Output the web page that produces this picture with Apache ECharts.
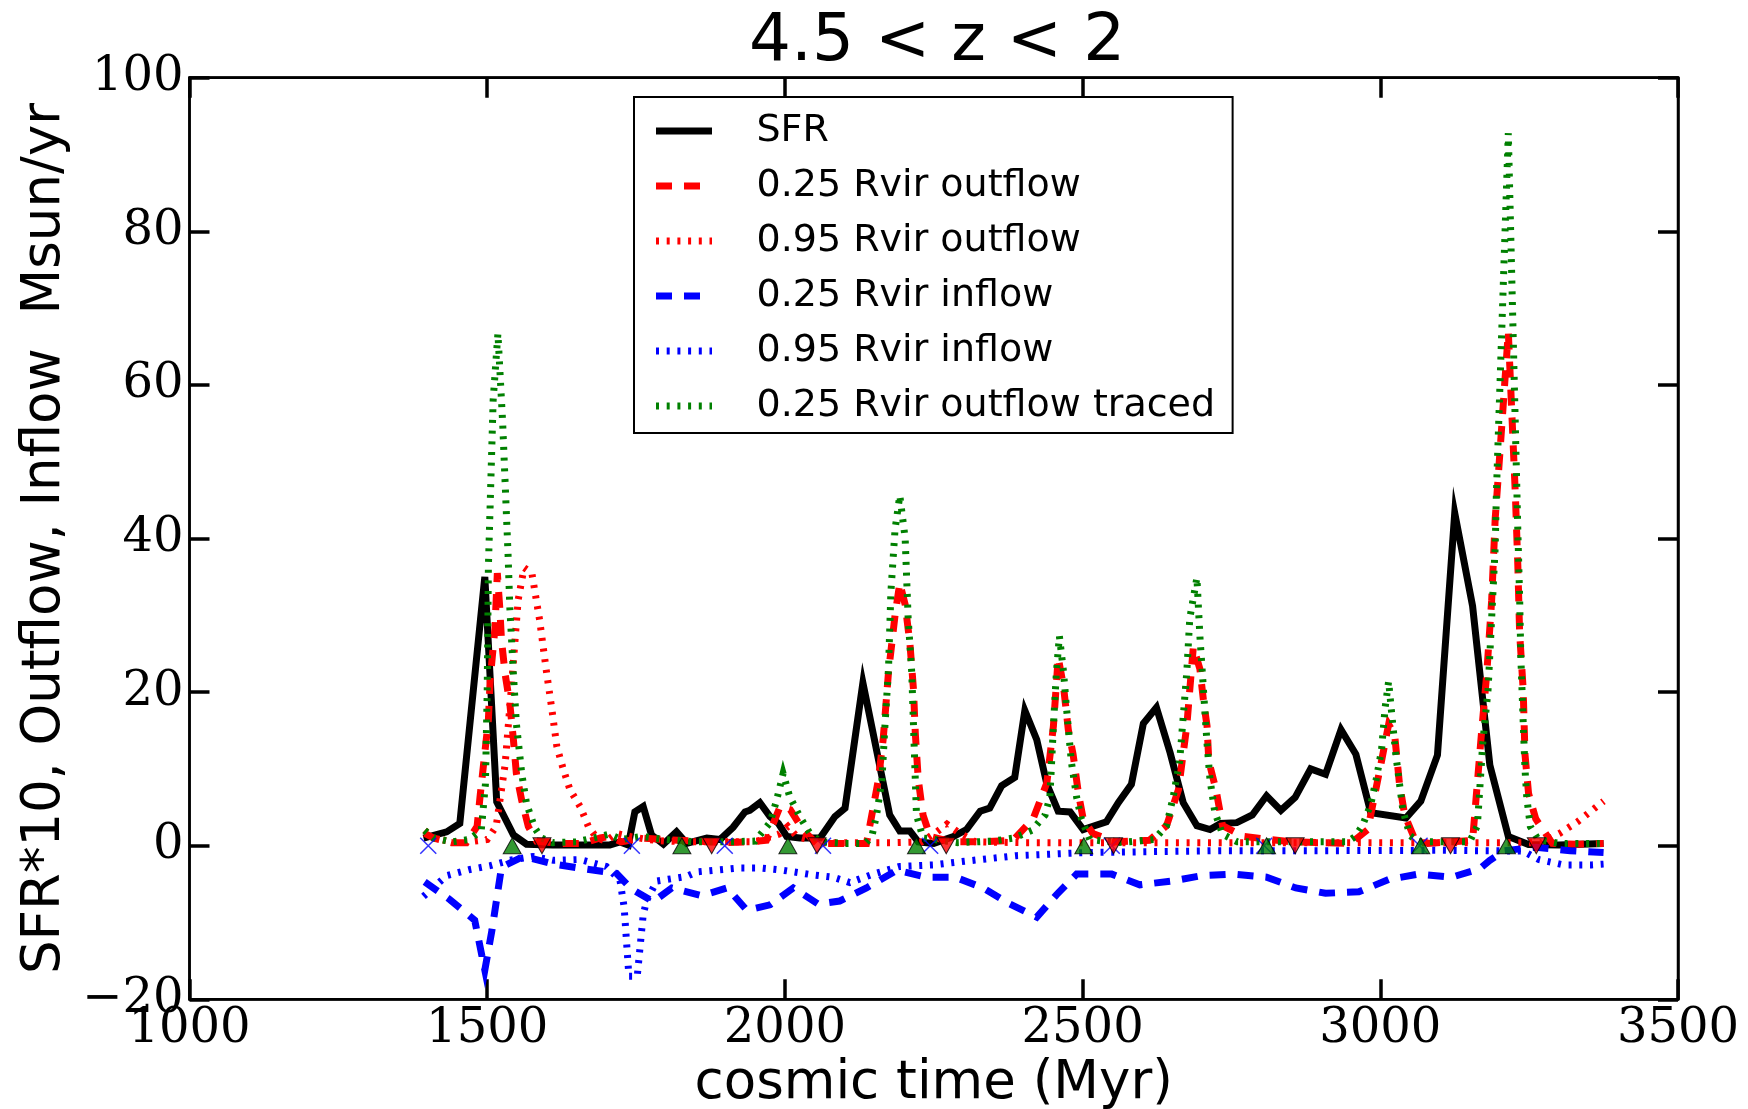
<!DOCTYPE html>
<html><head><meta charset="utf-8">
<script src="https://cdn.jsdelivr.net/npm/echarts@6/dist/echarts.min.js"></script>
<style>html,body{margin:0;padding:0;background:#fff}#c{width:1748px;height:1109px}</style>
</head><body><div id="c"></div>
<script>
// ---- axis ticks ----
const xTicks = [1000, 1500, 2000, 2500, 3000, 3500];
const yTicks = [-20, 0, 20, 40, 60, 80, 100];

// ---- SFR*10 ----
const sfrTime = [1393,1432,1454,1496,1516,1544,1566,1610,1660,1706,1723,1737,1748,1762,1776,1796,1818,1835,1869,1891,1913,1933,1941,1958,1975,1989,2003,2025,2059,2084,2101,2131,2176,2193,2210,2224,2250,2283,2305,2328,2344,2364,2386,2403,2423,2440,2459,2479,2501,2520,2540,2560,2582,2602,2624,2647,2669,2692,2714,2732,2759,2785,2809,2833,2857,2883,2908,2934,2959,2984,3043,3068,3096,3125,3155,3184,3215,3249,3300,3375];
const sfrValue = [1.0,1.8,2.9,35.0,5.7,1.4,0.2,0.1,0.1,0.1,0.5,0.1,4.4,5.1,1.4,0.2,1.8,0.3,1.0,0.8,2.4,4.4,4.6,5.6,3.8,2.9,1.2,1.0,1.0,3.8,4.9,21.2,4.0,1.9,1.9,0.5,0.3,1.2,2.1,4.5,4.9,7.8,8.9,17.6,13.8,8.0,4.5,4.4,2.1,2.6,3.1,5.6,8.0,15.9,18.0,12.1,5.6,2.6,2.1,2.9,3.0,4.0,6.5,4.6,6.3,10.0,9.3,15.1,11.9,4.3,3.6,5.8,11.8,43.3,31.2,10.5,1.2,0.15,0.1,0.3];

// ---- 0.25 Rvir outflow ----
const out25Time = [1395,1410,1440,1465,1483,1488,1496,1502,1505,1513,1517,1521,1524,1530,1538,1544,1549,1558,1569,1583,1620,1660,1690,1705,1725,1760,1800,1850,1900,1940,1969,1992,2009,2031,2053,2100,2137,2146,2157,2165,2174,2185,2193,2202,2210,2216,2219,2224,2232,2244,2280,2330,2383,2417,2440,2451,2459,2468,2476,2484,2493,2501,2517,2554,2612,2641,2661,2675,2686,2697,2703,2709,2712,2724,2735,2771,2850,2950,2979,3002,3014,3024,3032,3041,3056,3080,3155,3164,3170,3179,3187,3193,3199,3215,3227,3231,3234,3240,3243,3249,3261,3289,3330,3375];
const out25Value = [1.6,1.0,0.4,0.4,2.5,6.4,12.1,16.4,21.6,28.3,35.5,31.1,26.8,22.4,18.5,13.8,9.4,5.9,2.5,0.6,0.3,0.3,1.0,1.2,0.5,1.0,0.8,0.6,0.4,0.5,0.7,5.1,4.7,2.0,0.3,0.3,0.3,4.0,8.6,13.8,22.6,30.0,34.2,31.4,26.3,20.3,14.7,8.6,4.0,1.2,0.5,0.5,0.7,3.5,8.2,15.6,24.5,20.7,15.1,11.9,6.8,3.5,1.6,0.5,0.7,2.6,7.3,15.6,25.9,23.0,18.9,15.6,11.0,7.3,2.6,1.2,0.5,0.3,2.1,11.0,15.8,14.5,8.2,4.0,1.2,0.3,0.7,9.1,14.7,22.6,31.9,42.6,49.1,66.9,45.4,36.5,27.7,20.3,11.9,6.8,3.5,0.3,0.2,0.3];

// ---- 0.95 Rvir outflow ----
const out95Time = [1395,1410,1440,1470,1500,1515,1530,1540,1552,1562,1575,1588,1600,1608,1617,1628,1639,1656,1670,1684,1700,1717,1740,1770,1800,1850,1900,1950,1990,2005,2020,2060,2120,2180,2230,2255,2272,2290,2320,2400,2500,2600,2700,2800,2900,3000,3100,3200,3270,3301,3331,3375];
const out95Value = [2.0,1.0,0.5,0.5,0.8,2.5,10.5,20.0,32.0,36.2,35.5,29.4,22.4,18.1,12.9,9.9,7.3,5.1,2.5,1.0,0.6,1.6,1.2,0.8,0.6,0.5,0.5,0.5,1.5,2.5,1.2,0.4,0.4,0.4,0.5,1.8,2.8,1.8,0.5,0.4,0.4,0.4,0.4,0.4,0.4,0.4,0.4,0.4,0.4,1.6,3.1,5.8];

// ---- 0.25 Rvir inflow ----
const in25Time = [1395,1437,1479,1496,1508,1524,1561,1612,1662,1717,1742,1779,1810,1860,1903,1936,1975,2014,2056,2092,2137,2188,2238,2286,2333,2378,2423,2456,2490,2549,2596,2650,2700,2753,2809,2858,2908,2964,3014,3064,3120,3167,3184,3208,3261,3319,3375];
const in25Value = [-4.7,-7.0,-9.7,-16.2,-11.0,-2.8,-1.4,-2.4,-3.0,-3.6,-5.6,-7.3,-5.5,-6.5,-5.5,-8.4,-7.7,-5.5,-7.6,-7.2,-5.5,-3.2,-4.1,-4.1,-5.5,-7.6,-9.3,-6.4,-3.7,-3.7,-5.1,-4.6,-3.9,-3.7,-4.1,-5.5,-6.2,-6.0,-4.4,-3.7,-4.1,-3.0,-1.9,-0.65,-0.2,-0.65,-0.9];

// ---- 0.95 Rvir inflow ----
const in95Time = [1393,1432,1471,1505,1538,1577,1611,1656,1700,1723,1730,1738,1752,1762,1768,1785,1835,1852,1925,1959,1997,2047,2081,2109,2148,2193,2249,2305,2389,2501,2731,2900,3100,3240,3266,3308,3355,3375];
const in95Value = [-6.6,-3.9,-3.1,-2.6,-1.9,-1.4,-1.9,-1.8,-2.7,-4.5,-8.0,-17.0,-17.0,-9.0,-7.1,-4.6,-4.0,-3.4,-2.9,-2.9,-3.2,-3.8,-4.1,-4.8,-3.7,-2.7,-2.5,-2.0,-1.3,-0.9,-0.65,-0.65,-0.6,-0.7,-1.8,-2.5,-2.5,-2.4];

// ---- 0.25 Rvir outflow traced ----
const tracedTime = [1395,1410,1440,1470,1490,1497,1500,1502,1510,1518,1526,1535,1538,1544,1549,1558,1566,1580,1591,1610,1650,1690,1705,1725,1760,1800,1850,1900,1950,1975,1986,1997,2008,2025,2042,2060,2100,2135,2146,2154,2163,2168,2174,2178,2185,2193,2202,2207,2213,2216,2219,2221,2232,2290,2350,2385,2415,2437,2445,2451,2456,2461,2468,2473,2481,2490,2498,2512,2560,2620,2641,2652,2663,2675,2680,2692,2697,2703,2709,2714,2722,2735,2760,2850,2945,2958,2970,2984,2993,3002,3008,3014,3020,3026,3032,3038,3050,3065,3150,3163,3167,3172,3181,3187,3193,3195,3215,3231,3234,3236,3240,3243,3246,3252,3265,3300,3375];
const tracedValue = [2.0,1.0,0.5,0.8,2.0,8.0,20.0,36.3,58.0,66.7,55.0,38.0,31.0,22.4,15.9,9.4,5.5,2.3,1.0,0.4,0.5,1.2,1.5,0.8,1.2,0.8,0.5,0.5,0.6,3.0,5.9,9.4,6.4,3.8,1.6,0.5,0.3,0.3,1.2,4.0,8.6,15.6,23.0,33.0,41.2,45.6,40.0,29.6,22.6,15.6,8.6,4.0,1.0,0.4,0.6,1.0,2.0,4.0,6.3,15.6,22.6,27.3,22.6,17.9,11.0,6.3,3.5,0.8,0.4,0.8,2.6,6.3,11.0,22.6,29.6,34.9,27.3,20.3,13.3,8.6,4.4,1.5,0.5,0.5,0.5,1.2,2.6,5.4,8.6,12.4,17.9,21.4,16.5,11.9,8.2,4.6,1.3,0.5,0.5,2.6,7.3,13.3,20.3,29.6,38.9,46.0,92.8,41.0,32.4,24.6,16.1,10.0,6.3,2.5,0.8,0.3,0.3];

// ---- event markers on the zero line ----
const upTriTime = [1542, 1827, 2005, 2221, 2502, 2809, 3068, 3212];
const upTriValue = [0, 0, 0, 0, 0, 0, 0, 0];
const downTriTime = [1592, 1877, 2054, 2271, 2552, 2857, 3118, 3262];
const downTriValue = [0, 0, 0, 0, 0, 0, 0, 0];
const crossTime = [1401, 1743, 1899, 2064, 2244, 2549, 2805, 3066];
const crossValue = [0, 0, 0, 0, 0, 0, 0, 0];

const pairs = (t, v) => t.map((x, i) => [x, v[i]]);

const DOT = [3, 7.7];
const DASH = [16, 12];
const LW = 7;

function line(name, t, v, color, type, z) {
  return {
    name, type: 'line', data: pairs(t, v), symbol: 'none', showSymbol: false,
    lineStyle: { color, width: LW, type, cap: 'butt', join: 'miter' },
    itemStyle: { color }, z, silent: true, clip: true
  };
}

const serif = 'DejaVu Serif';
const sans = 'DejaVu Sans';

const option = {
  animation: false,
  backgroundColor: '#fff',
  title: {
    text: '4.5 < z < 2', left: 744, top: 5,
    textStyle: { fontFamily: sans, fontSize: 66, fontWeight: 'normal', color: '#000' }
  },
  legend: {
    orient: 'vertical', left: 634, top: 97,
    padding: [15, 17.5, 8, 18.5], itemGap: 17, itemWidth: 56, itemHeight: 20,
    borderColor: '#000', borderWidth: 2, backgroundColor: '#fff',
    selectedMode: false,
    itemStyle: { opacity: 0 },
    lineStyle: { width: LW },
    textStyle: { fontFamily: sans, fontSize: 38, color: '#000', padding: [0, 0, 0, 39.5] },
    data: ['SFR', '0.25 Rvir outflow', '0.95 Rvir outflow', '0.25 Rvir inflow', '0.95 Rvir inflow', '0.25 Rvir outflow traced'],
    z: 20
  },
  grid: {
    left: 189.5, right: 70, top: 77.7, bottom: 109.7,
    show: true, borderColor: '#000', borderWidth: 2.5, backgroundColor: '#fff',
    outerBoundsMode: 'none', containLabel: false
  },
  xAxis: [
    {
      type: 'value', min: xTicks[0], max: xTicks[xTicks.length - 1], interval: 500, position: 'bottom',
      name: 'cosmic time (Myr)', nameLocation: 'middle', nameGap: 56,
      nameTextStyle: { fontFamily: sans, fontSize: 53, color: '#000' },
      axisLine: { show: true, onZero: false, lineStyle: { color: '#000', width: 2.5 } },
      axisTick: { show: true, inside: true, length: 20, lineStyle: { color: '#000', width: 3.5 } },
      axisLabel: { fontFamily: serif, fontSize: 48, color: '#000', margin: 6, formatter: v => String(v) },
      splitLine: { show: false }
    },
    {
      type: 'value', min: xTicks[0], max: xTicks[xTicks.length - 1], interval: 500, position: 'top',
      axisLine: { show: true, onZero: false, lineStyle: { color: '#000', width: 2.5 } },
      axisTick: { show: true, inside: true, length: 20, lineStyle: { color: '#000', width: 3.5 } },
      axisLabel: { show: false }, splitLine: { show: false }
    }
  ],
  yAxis: [
    {
      type: 'value', min: yTicks[0], max: yTicks[yTicks.length - 1], interval: 20, position: 'left',
      name: 'SFR*10, Outflow, Inflow  Msun/yr', nameLocation: 'middle', nameGap: 118, nameRotate: 90,
      nameTextStyle: { fontFamily: sans, fontSize: 53, color: '#000' },
      axisLine: { show: true, onZero: false, lineStyle: { color: '#000', width: 2.5 } },
      axisTick: { show: true, inside: true, length: 20, lineStyle: { color: '#000', width: 3.5 } },
      axisLabel: {
        fontFamily: serif, fontSize: 48, color: '#000', margin: 6,
        formatter: v => (v < 0 ? '\u2212' + Math.abs(v) : String(v))
      },
      splitLine: { show: false }
    },
    {
      type: 'value', min: yTicks[0], max: yTicks[yTicks.length - 1], interval: 20, position: 'right',
      axisLine: { show: true, onZero: false, lineStyle: { color: '#000', width: 2.5 } },
      axisTick: { show: true, inside: true, length: 20, lineStyle: { color: '#000', width: 3.5 } },
      axisLabel: { show: false }, splitLine: { show: false }
    }
  ],
  series: [
    line('SFR', sfrTime, sfrValue, '#000000', 'solid', 2),
    line('0.25 Rvir outflow', out25Time, out25Value, '#ff0000', DASH, 3),
    line('0.95 Rvir outflow', out95Time, out95Value, '#ff0000', DOT, 4),
    line('0.25 Rvir inflow', in25Time, in25Value, '#0000ff', DASH, 5),
    line('0.95 Rvir inflow', in95Time, in95Value, '#0000ff', DOT, 6),
    line('0.25 Rvir outflow traced', tracedTime, tracedValue, '#008000', DOT, 7),
    {
      name: 'cross', type: 'scatter', data: pairs(crossTime, crossValue),
      symbol: 'path://M0,0L10,10M10,0L0,10', symbolSize: 16,
      itemStyle: { color: 'rgba(0,0,0,0)', borderColor: '#0000ff', borderWidth: 1.5 }, z: 8, silent: true
    },
    {
      name: 'up', type: 'scatter', data: pairs(upTriTime, upTriValue),
      symbol: 'triangle', symbolSize: [18, 16],
      itemStyle: { color: '#008000', borderColor: '#000', borderWidth: 1 }, z: 9, silent: true
    },
    {
      name: 'down', type: 'scatter', data: pairs(downTriTime, downTriValue),
      symbol: 'triangle', symbolRotate: 180, symbolSize: [18, 16],
      itemStyle: { color: '#ff0000', borderColor: '#000', borderWidth: 1 }, z: 9, silent: true
    }
  ]
};

const chart = echarts.init(document.getElementById('c'), null, { renderer: 'canvas', width: 1748, height: 1109 });
chart.setOption(option);
</script>
</body></html>
